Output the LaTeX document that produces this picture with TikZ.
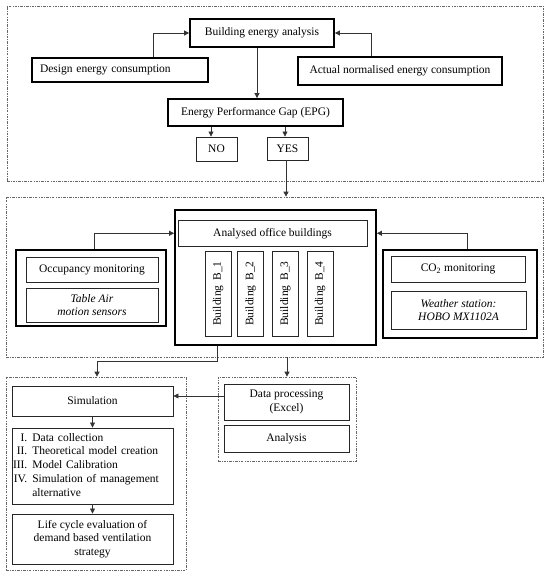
\documentclass[tikz,border=0pt]{standalone}
\usepackage{fontspec}
\setmainfont{Liberation Serif}
\usetikzlibrary{arrows.meta}
\tikzset{
  base/.style={draw, inner sep=1pt, align=center, font=\fontsize{11.5}{13.8}\selectfont},
  thickbox/.style={base, line width=1.8pt},
  thinbox/.style={base, line width=0.9pt, draw=black!85},
  group/.style={draw=black!60, line width=0.7pt, dash pattern=on 2.5pt off 1.2pt on 0.8pt off 1.2pt, inner sep=0pt},
  arr/.style={line width=0.7pt, draw=black!80, -{Triangle[length=5pt,width=5pt]}},
}
\begin{document}
\begin{tikzpicture}[x=1pt,y=-1pt]
\useasboundingbox (0,0) rectangle (550,575);
% groups
\node[group, minimum width=536, minimum height=175] (g1) at (275,93.5) {};
\node[group, minimum width=537, minimum height=160] (g2) at (274.5,277) {};
\node[group, minimum width=180, minimum height=193] (g3a) at (96,473.5) {};
\node[group, minimum width=138, minimum height=84] (g3b) at (287,419) {};
% top
\node[thickbox, minimum width=144, minimum height=28] (bea) at (262,33) {Building energy analysis};
\node[thickbox, minimum width=176, minimum height=24, text width=160, align=left, inner xsep=8pt] (design) at (120,70) {Design energy consumption};
\node[thickbox, minimum width=204, minimum height=28] (actual) at (400,71) {Actual normalised energy consumption};
\node[thickbox, minimum width=175, minimum height=27] (epg) at (255.5,112.5) {Energy Performance Gap (EPG)};
\node[thinbox, minimum width=41, minimum height=24] (no) at (216.5,149) {NO};
\node[thinbox, minimum width=41, minimum height=23] (yes) at (287.5,148.5) {YES};
\draw[arr] ([xshift=33]design.north) |- (bea.west);
\draw[arr] ([xshift=-29]actual.north) |- (bea.east);
\draw[arr] ([xshift=-5]bea.south) -- ([xshift=-5]bea.south |- epg.north);
\draw[arr] ([xshift=-5.5]no.north |- epg.south) -- ([xshift=-5.5]no.north);
\draw[arr] ([xshift=-2.5]yes.north |- epg.south) -- ([xshift=-2.5]yes.north);
\draw[arr] ([xshift=-1.5]yes.south) -- ([xshift=-1.5]yes.south |- g2.north);
% middle
\node[thickbox, minimum width=201, minimum height=135] (aout) at (275.5,277.5) {};
\node[thinbox, minimum width=189, minimum height=25.5] (aob) at (272.5,233.25) {Analysed office buildings};
\node[thinbox, rotate=90, minimum width=85, minimum height=26] (b1) at (218,293.5) {Building\hspace{5pt}B\_1};
\node[thinbox, rotate=90, minimum width=85, minimum height=26] (b2) at (250.5,293.5) {Building\hspace{5pt}B\_2};
\node[thinbox, rotate=90, minimum width=85, minimum height=26] (b3) at (285.25,293.5) {Building\hspace{5pt}B\_3};
\node[thinbox, rotate=90, minimum width=85, minimum height=26] (b4) at (320,293.5) {Building\hspace{5pt}B\_4};
\node[thickbox, minimum width=150, minimum height=76] (lout) at (91,288) {};
\node[thinbox, minimum width=132, minimum height=25] (occ) at (92,269.5) {Occupancy monitoring};
\node[thinbox, minimum width=132, minimum height=34] (tab) at (92,305) {\itshape Table Air\\\itshape motion sensors};
\node[thickbox, minimum width=154, minimum height=88] (rout) at (460,294) {};
\node[thinbox, minimum width=134, minimum height=26] (co2) at (458,269) {CO\textsubscript{2} monitoring};
\node[thinbox, minimum width=135, minimum height=38] (wea) at (458.5,310) {\itshape Weather station:\\\itshape HOBO MX1102A};
\draw[arr] ([xshift=3]lout.north) |- (aob.west -| aout.west);
\draw[arr] ([xshift=7]rout.north) |- (aob.east -| aout.east);
% bottom
\node[thinbox, minimum width=161, minimum height=30] (sim) at (92.5,401) {Simulation};
\node[thinbox, minimum width=161, minimum height=76, text width=159, align=left, inner xsep=1pt] (list) at (92.5,466) {%
\begin{tabular}{@{}r@{\hspace{5pt}}l@{}}
I. & Data collection\\
II. & Theoretical model creation\\
III. & Model Calibration\\
IV. & Simulation of management\\
 & alternative
\end{tabular}};
\node[thinbox, minimum width=161, minimum height=50] (life) at (92.5,539) {Life cycle evaluation of\\demand based ventilation\\strategy};
\node[thinbox, minimum width=125, minimum height=36] (dp) at (286.5,402) {Data processing\\(Excel)};
\node[thinbox, minimum width=125, minimum height=27] (an) at (286.5,438.5) {Analysis};
\draw[arr] (sim.south) -- (list.north);
\draw[arr] (list.south) -- (life.north);
\draw[arr] ([yshift=6pt]dp.west) -- ([yshift=6pt]dp.west -| sim.east);
\draw[arr] ([xshift=-58.5]aout.south) -- ++(0,15) -| ([xshift=1]g3a.north);
\draw[arr] (g3b.north |- g2.south) -- (g3b.north);
\end{tikzpicture}
\end{document}
